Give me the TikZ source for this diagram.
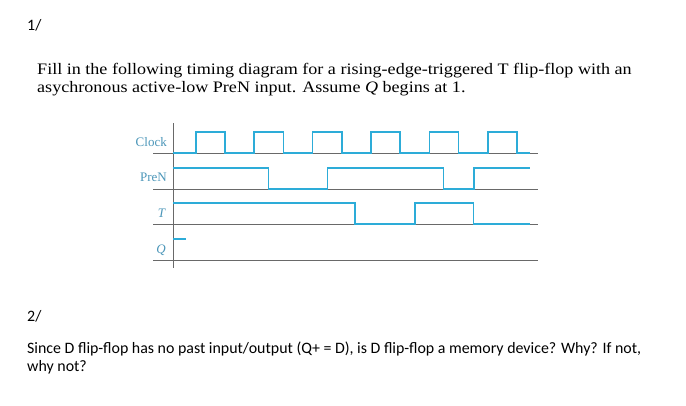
\documentclass[tikz,border=0pt]{standalone}
\usepackage{fontspec}
\setmainfont{Liberation Serif}
\newfontfamily\calfont{Carlito}
\newfontfamily\wideserif[FakeStretch=1.13]{Liberation Serif}
\definecolor{wavecol}{RGB}{45,172,216}
\definecolor{labcol}{RGB}{75,150,185}
\definecolor{gridcol}{RGB}{105,105,105}
\tikzset{
	wave/.style={draw=wavecol, line width=1.6pt},
	axisline/.style={draw=gridcol, line width=0.8pt},
	siglabel/.style={anchor=east, text=labcol, inner sep=0pt, font=\fontsize{13}{13}\selectfont},
	qtext/.style={anchor=base west, inner sep=0pt, font=\wideserif\fontsize{16}{19}\selectfont},
	ctext/.style={anchor=base west, inner sep=0pt, font=\calfont\fontsize{15.9}{19}\selectfont}
}
\begin{document}
\begin{tikzpicture}[x=1pt, y=-1pt]
	\useasboundingbox[fill=white] (0, 0) rectangle (686, 405);
	% question 1
	\node[ctext] (numone) at (27, 30) {1/};
	\node[qtext] (lineone) at (37, 74) {Fill in the following timing diagram for a rising-edge-triggered T flip-flop with an};
	\node[qtext] (linetwo) at (37, 92.7) {asychronous active-low PreN input. Assume \textit{Q} begins at 1.};
	% signal names
	\node[siglabel] (clk) at (167, 142) {Clock};
	\node[siglabel] (pren) at (167, 177.5) {PreN};
	\node[siglabel] (tin) at (166, 213) {\textit{T}};
	\node[siglabel] (qout) at (166, 250) {\textit{Q}};
	% grid
	\draw[axisline] (173, 123) -- (173, 268);
	\draw[axisline] (153, 153) -- (538, 153);
	\draw[axisline] (153, 189) -- (538, 189);
	\draw[axisline] (153, 224) -- (538, 224);
	\draw[axisline] (153, 260) -- (538, 260);
	% waveforms
	\draw[wave] (173, 153) \foreach \k in {0,...,5} { -| ({195.7+58.4*\k}, 131.7) -| ({225+58.4*\k}, 153) } -- (530, 153);
	\draw[wave] (173, 167.7) -| (268.3, 189) -| (327.3, 167.7) -| (443.3, 189) -| (474, 167.7) -- (530, 167.7);
	\draw[wave] (173, 202.7) -| (355, 224) -| (415, 202.7) -| (473.3, 224) -- (530, 224);
	\draw[wave] (173, 238.7) -- (186, 238.7);
	% question 2
	\node[ctext] (numtwo) at (27, 321) {2/};
	\node[ctext] (lastone) at (27, 353.3) {Since D flip-flop has no past input/output (Q+ = D), is D flip-flop a memory device? Why? If not,};
	\node[ctext] (lasttwo) at (27, 371.7) {why not?};
\end{tikzpicture}
\end{document}
